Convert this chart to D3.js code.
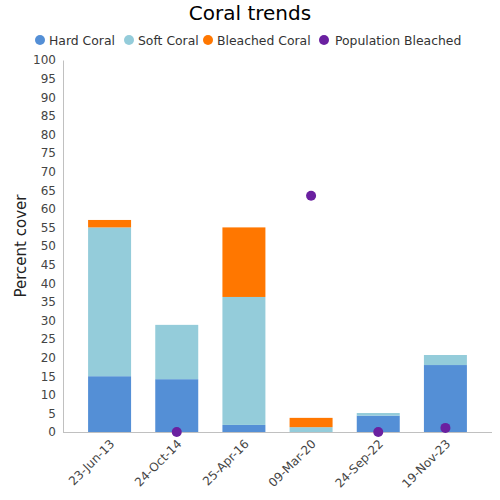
<!DOCTYPE html>
<html><head><meta charset="utf-8">
<script src="https://cdn.jsdelivr.net/npm/d3@7"></script>
<style>body{margin:0;background:#fff;} text{font-family:"DejaVu Sans",sans-serif;}</style>
</head><body><svg id="c" width="500" height="500"></svg>
<script>
const categories = ["23-Jun-13","24-Oct-14","25-Apr-16","09-Mar-20","24-Sep-22","19-Nov-23"];
const hardCoral = [15, 14.2, 1.9, 0, 4.4, 18.0];
const softCoral = [40, 14.6, 34.4, 1.3, 0.7, 2.7];
const bleachedCoral = [2, 0, 18.7, 2.5, 0, 0];
const populationBleached = [null, 0, null, 63.5, 0, 1.1];
const yTicks = d3.range(0, 101, 5);
const seriesNames = ["Hard Coral","Soft Coral","Bleached Coral","Population Bleached"];
const colors = ["#548fd6","#94ccda","#ff7700","#6a20a0"];

const svg = d3.select("#c");
const x0 = 63, x1 = 492, yTop = 60, yBot = 432;
const x = d3.scaleBand().domain(categories).range([76, 479]).paddingInner(0.36).paddingOuter(0.18);
const y = d3.scaleLinear().domain([0,100]).range([yBot, yTop]);

svg.append("text").attr("x",250).attr("y",20).attr("text-anchor","middle")
  .attr("font-size",20).attr("fill","#000").text("Coral trends");

// legend
const legX = [40, 129, 208, 324];
seriesNames.forEach((n,i)=>{
  svg.append("circle").attr("cx",legX[i]).attr("cy",40).attr("r",5).attr("fill",colors[i]);
  svg.append("text").attr("x",legX[i]+ (i===3?11:9)).attr("y",44.5).attr("font-size",12.4).attr("fill","#333").text(n);
});

// y axis
const yAxis = svg.append("g").attr("transform",`translate(${x0},0)`)
  .call(d3.axisLeft(y).tickValues(yTicks).tickSize(0).tickPadding(7));
yAxis.select(".domain").attr("stroke","#c0c0c0");
yAxis.selectAll("text").attr("font-size",12).attr("fill","#444").attr("font-family","DejaVu Sans");

svg.append("text").attr("transform","translate(26,246) rotate(-90)").attr("text-anchor","middle")
  .attr("font-size",15).attr("fill","#222").text("Percent cover");

// bars
const stackData = categories.map((c,i)=>({cat:c, hard:hardCoral[i], soft:softCoral[i], bleached:bleachedCoral[i]}));
const stack = d3.stack().keys(["hard","soft","bleached"])(stackData);
stack.forEach((layer,li)=>{
  svg.append("g").selectAll("rect").data(layer).join("rect")
    .attr("x",d=>x(d.data.cat)).attr("width",x.bandwidth())
    .attr("y",d=>y(d[1])).attr("height",d=>y(d[0])-y(d[1]))
    .attr("fill",colors[li]);
});

// x axis
const xAxis = svg.append("g").attr("transform",`translate(0,${yBot})`)
  .call(d3.axisBottom(x).tickSize(0).tickPadding(8));
xAxis.select(".domain").remove();
svg.append("line").attr("x1",x0).attr("x2",x1).attr("y1",yBot+0.5).attr("y2",yBot+0.5).attr("stroke","#c0c0c0");
xAxis.selectAll("text").attr("font-size",12).attr("fill","#444").attr("font-family","DejaVu Sans")
  .attr("text-anchor","end").attr("dy","0.35em")
  .attr("transform","translate(-3,4) rotate(-45)");

// dots
svg.append("g").selectAll("circle")
  .data(categories.map((c,i)=>({cat:c,v:populationBleached[i]})).filter(d=>d.v!==null))
  .join("circle")
  .attr("cx",d=>x(d.cat)+x.bandwidth()/2).attr("cy",d=>y(d.v)).attr("r",5).attr("fill",colors[3]);
</script></body></html>
